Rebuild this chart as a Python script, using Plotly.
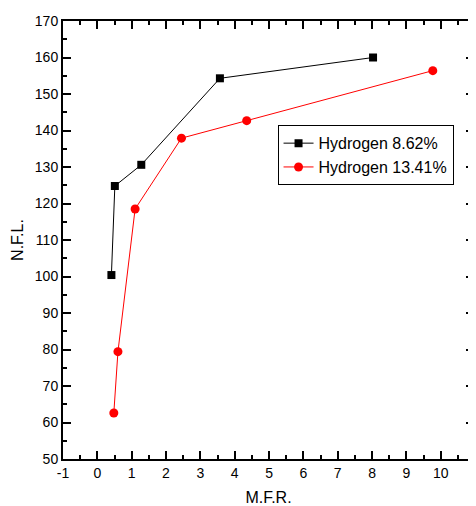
import plotly.graph_objects as go

mfr_h862 = [0.41, 0.51, 1.28, 3.57, 8.03]
nfl_h862 = [100.4, 124.8, 130.6, 154.3, 160.0]
mfr_h1341 = [0.48, 0.60, 1.10, 2.45, 4.35, 9.77]
nfl_h1341 = [62.6, 79.4, 118.5, 137.9, 142.7, 156.4]
names = ["Hydrogen 8.62%", "Hydrogen 13.41%"]
x_tickvals = [-1, 0, 1, 2, 3, 4, 5, 6, 7, 8, 9, 10]
x_ticktext = ["-1", "0", "1", "2", "3", "4", "5", "6", "7", "8", "9", "10"]

FONT = "Liberation Sans, Arial, sans-serif"
TICK = "black"

fig = go.Figure()
fig.add_trace(go.Scatter(x=mfr_h862, y=nfl_h862, mode="lines+markers", name=names[0],
                         line=dict(color="black", width=1),
                         marker=dict(symbol="square", size=8, color="black")))
fig.add_trace(go.Scatter(x=mfr_h1341, y=nfl_h1341, mode="lines+markers", name=names[1],
                         line=dict(color="red", width=1),
                         marker=dict(symbol="circle", size=9, color="red")))

fig.update_layout(
    width=468, height=498,
    margin=dict(l=55, r=0, t=13, b=46),
    paper_bgcolor="white", plot_bgcolor="white",
    font=dict(family=FONT, color="black"),
    xaxis=dict(range=[-1, 10.97], tickmode="array", tickvals=x_tickvals, ticktext=x_ticktext,
               showgrid=False, zeroline=False, showline=True, linecolor="black", linewidth=2,
               mirror="ticks", ticks="inside", ticklen=8, tickwidth=2, tickcolor=TICK,
               tickfont=dict(family=FONT, size=14, color="black"),
               minor=dict(dtick=0.5, tick0=-1, ticks="inside", ticklen=4, tickwidth=2, tickcolor=TICK),
               title=dict(text="M.F.R.", font=dict(family=FONT, size=16, color="black"), standoff=14)),
    yaxis=dict(range=[50, 170], dtick=10, tick0=50,
               showgrid=False, zeroline=False, showline=True, linecolor="black", linewidth=2,
               mirror="ticks", ticks="inside", ticklen=8, tickwidth=2, tickcolor=TICK,
               tickfont=dict(family=FONT, size=14, color="black"),
               minor=dict(dtick=5, ticks="inside", ticklen=4, tickwidth=2, tickcolor=TICK),
               title=dict(text="N.F.L.", font=dict(family=FONT, size=16, color="black"), standoff=7)),
    legend=dict(x=0.522, y=0.762, xanchor="left", yanchor="top",
                bgcolor="white", bordercolor="black", borderwidth=1,
                font=dict(family=FONT, size=16, color="black"),
                tracegroupgap=0, itemwidth=30),
)

fig.write_html("out.html")
